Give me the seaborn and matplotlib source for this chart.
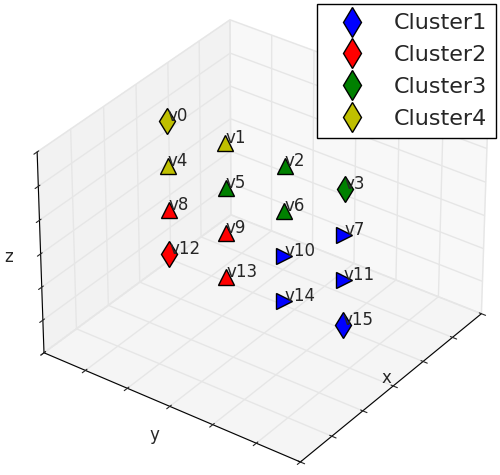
import numpy as np
import matplotlib
matplotlib.use("Agg")
import matplotlib.pyplot as plt
from matplotlib.lines import Line2D
import seaborn as sns

# node layout: one 4x4 grid on a plane of constant x
names = ["v%d" % i for i in range(16)]
xs = [0.0] * 16
ys = [0, 1, 2, 3] * 4
zs = [3] * 4 + [2] * 4 + [1] * 4 + [0] * 4
cluster = [3, 3, 2, 2,
           3, 2, 2, 0,
           1, 1, 0, 0,
           1, 1, 0, 0]
markers = ["d", "^", "^", "d",
           "^", "^", "^", ">",
           "^", "^", ">", ">",
           "d", "^", ">", "d"]
cluster_names = ["Cluster1", "Cluster2", "Cluster3", "Cluster4"]

sns.set_style("white")
plt.rcParams["font.family"] = ["DejaVu Sans"]
palette = sns.color_palette(["#0000ff", "#ff0000", "#008000", "#bfbf00"])

fig = plt.figure(figsize=(5, 4.75), dpi=100)
ax = fig.add_axes([-0.005, -0.028, 1.04, 1.04], projection="3d")
ax.set_proj_type("persp", focal_length=1.6)

for i in range(16):
    size = 13 if markers[i] == "d" else 11
    ax.plot([xs[i]], [ys[i]], [zs[i]], linestyle="", marker=markers[i],
            markersize=size, color=palette[cluster[i]],
            markeredgecolor="black", markeredgewidth=1.0)
    ax.text(xs[i], ys[i], zs[i], names[i], fontsize=12, zorder=10)

ax.set_xlim(-1.38, 1.62)
ax.set_ylim(-0.40, 3.97)
ax.set_zlim(-0.72, 3.72)
ax.set_xticks(np.linspace(-1.38, 1.62, 7))
ax.set_yticks(np.linspace(-0.40, 3.97, 7))
ax.set_zticks(np.linspace(-0.72, 3.72, 7))
ax.set_xticklabels([])
ax.set_yticklabels([])
ax.set_zticklabels([])
ax.set_xlabel("x", fontsize=12, labelpad=-26)
ax.set_ylabel("y", fontsize=12, labelpad=-6)
ax.set_zlabel("z", fontsize=12, labelpad=-8)

for axis, pane in zip([ax.xaxis, ax.yaxis, ax.zaxis],
                      [(0.95, 0.95, 0.95, 0.5), (0.9, 0.9, 0.9, 0.5), (0.925, 0.925, 0.925, 0.5)]):
    axis.set_pane_color(pane)
    axis._axinfo["grid"]["color"] = (0.9, 0.9, 0.9, 1)
    axis._axinfo["grid"]["linewidth"] = 1.0
    axis.line.set_color("black")

ax.view_init(elev=33, azim=36)

handles = [Line2D([], [], linestyle="", marker="d", markersize=15,
                  color=palette[k], markeredgecolor="black")
           for k in range(4)]
fig.legend(handles, cluster_names, loc="upper right", bbox_to_anchor=(1.0, 1.0),
           fontsize=16, numpoints=1, fancybox=False, edgecolor="black",
           framealpha=1, borderaxespad=0.2, handlelength=2.4,
           handletextpad=0.65, labelspacing=0.53)

fig.savefig("out.png", dpi=100)
